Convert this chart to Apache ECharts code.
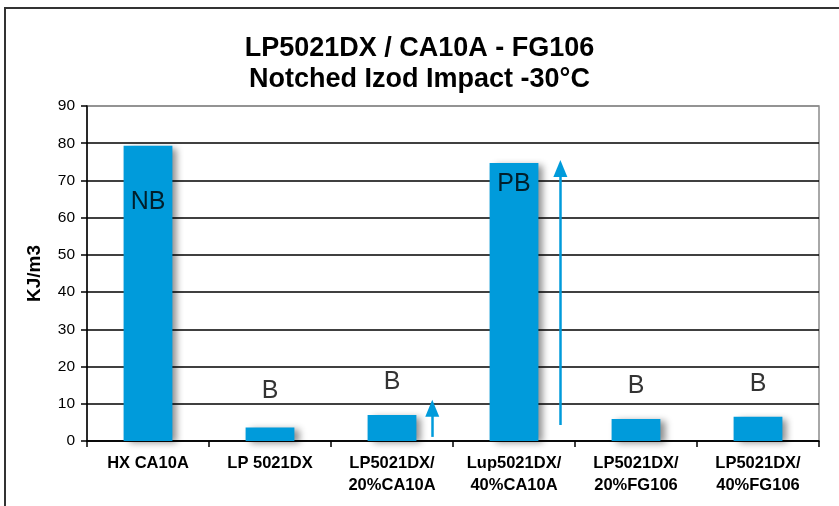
<!DOCTYPE html>
<html><head><meta charset="utf-8">
<script src="https://cdn.jsdelivr.net/npm/echarts@6/dist/echarts.min.js"></script>
<style>html,body{margin:0;padding:0;background:#fff}#c{width:839px;height:506px}</style>
</head><body><div id="c"></div>
<script>
const categories = ['HX CA10A', 'LP 5021DX', 'LP5021DX/\n20%CA10A', 'Lup5021DX/\n40%CA10A', 'LP5021DX/\n20%FG106', 'LP5021DX/\n40%FG106'];
const impactValues = [79.3, 3.6, 7.0, 74.7, 5.9, 6.5];
const breakLabels = ['NB', 'B', 'B', 'PB', 'B', 'B'];
const breakLabelY = [64.2, 13.5, 15.8, 69.0, 14.8, 15.2];
const arrowX = [2.83, 3.88];
const arrowFrom = [1.1, 4.3];
const arrowTo = [8.8, 73.2];
const yTicks = [0, 90, 10];

const chart = echarts.init(document.getElementById('c'), null, {renderer: 'canvas'});
const font = '"Liberation Sans", Arial, sans-serif';
const blue = '#009bdb';
const gridColors = ['#000','#000','#000','#000','#000','#000','#000','#000','#000','#8c8c8c'];

chart.setOption({
  animation: false,
  backgroundColor: '#fff',
  graphic: [{
    type: 'rect', shape: {x: 5, y: 8, width: 900, height: 600},
    style: {fill: 'none', stroke: '#333', lineWidth: 2}, silent: true
  }],
  title: {
    text: 'LP5021DX / CA10A - FG106\nNotched Izod Impact -30°C',
    left: 'center', top: 28,
    textStyle: {fontFamily: font, fontSize: 27, fontWeight: 'bold', color: '#000', lineHeight: 31}
  },
  grid: {left: 87, right: 20, top: 106, bottom: 65, show: true, borderColor: '#8c8c8c', borderWidth: 1.5, backgroundColor: 'transparent'},
  xAxis: [{
    type: 'category', data: categories,
    axisLine: {lineStyle: {color: '#000', width: 1.5}},
    axisTick: {show: true, length: 6, alignWithLabel: false, lineStyle: {color: '#000', width: 1.5}},
    axisLabel: {fontFamily: font, fontSize: 16.5, fontWeight: 'bold', color: '#000', lineHeight: 22, margin: 11, interval: 0}
  }, {
    type: 'value', min: 0, max: 6, show: false
  }],
  yAxis: {
    type: 'value', min: yTicks[0], max: yTicks[1], interval: yTicks[2],
    name: 'KJ/m3', nameLocation: 'middle', nameGap: 43,
    nameTextStyle: {fontFamily: font, fontSize: 19, fontWeight: 'bold', color: '#000'},
    axisLine: {show: true, lineStyle: {color: '#000', width: 1.5}},
    axisTick: {show: true, length: 6, lineStyle: {color: '#000', width: 1.5}},
    axisLabel: {fontFamily: font, fontSize: 15.5, color: '#000', margin: 12},
    splitLine: {show: true, lineStyle: {color: gridColors, width: 1.5}}
  },
  series: [{
    type: 'bar', data: impactValues, barWidth: '40%',
    itemStyle: {color: blue, shadowColor: 'rgba(0,0,0,0.45)', shadowBlur: 7, shadowOffsetX: 5, shadowOffsetY: 2}
  }, {
    type: 'scatter', symbolSize: 0,
    data: breakLabelY.map((v, i) => [i, v]),
    label: {show: true, position: 'inside', formatter: p => breakLabels[p.dataIndex],
      fontFamily: font, fontSize: 25, color: '#000'},
    z: 5
  }, {
    type: 'line', xAxisIndex: 1, data: [], symbol: 'none',
    markLine: {
      silent: true, symbol: ['none', 'triangle'], symbolSize: [14, 17],
      label: {show: false},
      lineStyle: {color: blue, width: 2.5, type: 'solid'},
      data: arrowX.map((x, i) => [{coord: [x, arrowFrom[i]]}, {coord: [x, arrowTo[i]]}])
    }
  }]
});
</script></body></html>
